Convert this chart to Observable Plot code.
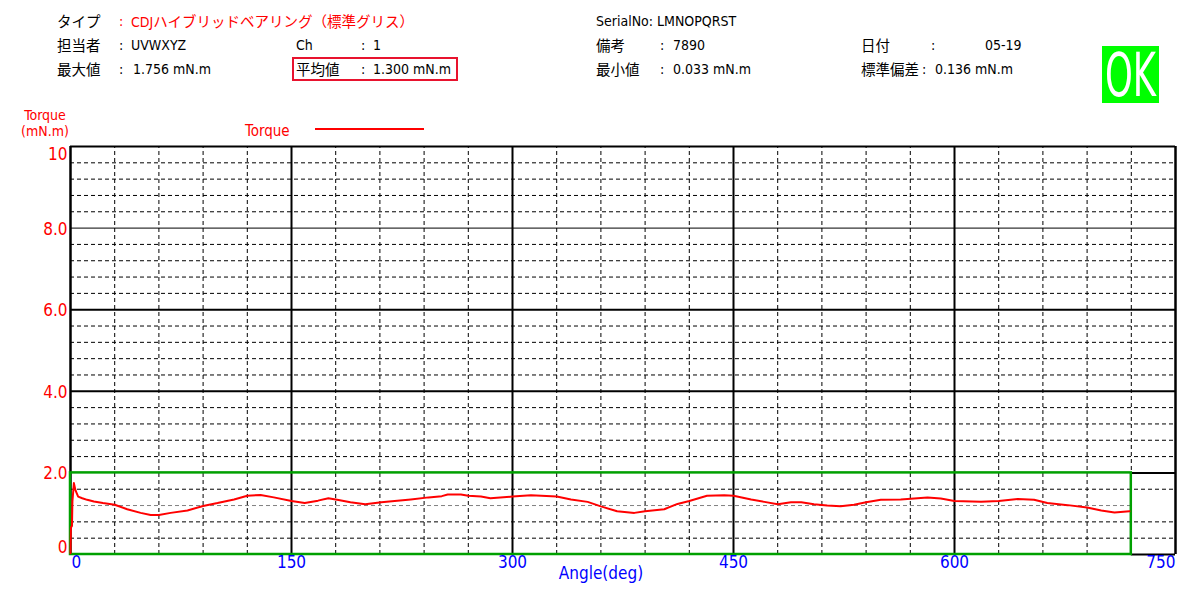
<!DOCTYPE html>
<html><head><meta charset="utf-8">
<script src="https://cdn.jsdelivr.net/npm/d3@7"></script>
<script src="https://cdn.jsdelivr.net/npm/@observablehq/plot@0.6"></script>
<style>
body{margin:0;background:#fff;}
#root{position:relative;width:1200px;height:610px;overflow:hidden;font-family:"Liberation Sans Narrow","DejaVu Sans Condensed","Noto Sans CJK JP",sans-serif;}
.t{position:absolute;font-size:14px;line-height:16px;white-space:nowrap;color:#000;}
.j{font-family:"Noto Sans CJK JP",sans-serif;font-size:14.5px;}
.r{color:#ff0000;}
.s{font-size:15px;line-height:14px;}
.ya{font-size:14px;line-height:16px;}
#chart{position:absolute;left:0;top:100px;}
</style></head>
<body><div id="root">
<div class="t j" style="left:57px;top:13px">タイプ</div>
<div class="t r" style="left:119px;top:13px">:</div>
<div class="t r" style="left:131px;top:13px">CDJ<span class="j">ハイブリッドベアリング（標準グリス）</span></div>
<div class="t" style="left:596px;top:13px">SerialNo: LMNOPQRST</div>

<div class="t j" style="left:57px;top:37px">担当者</div>
<div class="t" style="left:119px;top:37px">:</div>
<div class="t" style="left:131px;top:37px">UVWXYZ</div>
<div class="t" style="left:296px;top:37px">Ch</div>
<div class="t" style="left:361px;top:37px">:</div>
<div class="t" style="left:373px;top:37px">1</div>
<div class="t j" style="left:596px;top:37px">備考</div>
<div class="t" style="left:660px;top:37px">:</div>
<div class="t" style="left:673px;top:37px">7890</div>
<div class="t j" style="left:861px;top:37px">日付</div>
<div class="t" style="left:931px;top:37px">:</div>
<div class="t" style="left:985px;top:37px">05-19</div>

<div class="t j" style="left:57px;top:61px">最大値</div>
<div class="t" style="left:119px;top:61px">:</div>
<div class="t" style="left:133px;top:61px">1.756 mN.m</div>
<div style="position:absolute;left:292px;top:57px;width:162px;height:20px;border:2px solid #e8132e;"></div>
<div class="t j" style="left:296px;top:61px">平均値</div>
<div class="t" style="left:361px;top:61px">:</div>
<div class="t" style="left:373px;top:61px">1.300 mN.m</div>
<div class="t j" style="left:596px;top:61px">最小値</div>
<div class="t" style="left:660px;top:61px">:</div>
<div class="t" style="left:673px;top:61px">0.033 mN.m</div>
<div class="t j" style="left:861px;top:61px">標準偏差</div>
<div class="t" style="left:922px;top:61px">:</div>
<div class="t" style="left:935px;top:61px">0.136 mN.m</div>

<svg style="position:absolute;left:1102px;top:36px;overflow:visible" width="57" height="80">
<rect y="10" width="57" height="57" fill="#00ff00"/>
<text x="3" y="60" fill="#fff" font-family="Liberation Sans Narrow, DejaVu Sans Condensed, sans-serif" font-size="60" textLength="51" lengthAdjust="spacingAndGlyphs">OK</text>
</svg>

<div class="t r ya" style="left:20px;top:107px;width:50px;text-align:center;">Torque<br>(mN.m)</div>
<div class="t r s" style="left:245px;top:124px;">Torque</div>
<div style="position:absolute;left:315px;top:128px;width:109px;height:2px;background:#ff0000;"></div>

<div id="chart"></div>
</div>
<script>
const angle = [0, 0.3, 1.0, 1.3, 2.3, 3.4, 5.2, 8, 11.3, 15.9, 22, 30, 38.5, 47.6, 54.4, 60, 68, 79.4, 90, 99.8,
  111, 120, 129, 138, 150, 159, 168, 175, 181, 190, 200, 211, 220, 231, 243, 252, 256, 265, 270, 278.6,
  285, 300, 312.5, 330, 339.7, 351, 360, 371, 382.7, 390, 403, 412, 420, 432, 443.7, 450, 462, 471, 480, 489,
  496, 504.6, 513.6, 522.7, 531.8, 540, 550, 563.5, 581.7, 590.7, 600, 618, 630, 642.9, 654, 663, 676.9, 690, 699.6, 708.6, 718.8];
const torque = [0.03, 0.66, 0.70, 1.30, 1.75, 1.57, 1.42, 1.38, 1.34, 1.30, 1.26, 1.22, 1.11, 1.02, 0.97, 0.97, 1.02, 1.08, 1.19, 1.26,
  1.35, 1.44, 1.46, 1.40, 1.31, 1.26, 1.32, 1.38, 1.34, 1.28, 1.23, 1.28, 1.31, 1.35, 1.40, 1.43, 1.47, 1.47, 1.44, 1.42,
  1.38, 1.42, 1.45, 1.42, 1.35, 1.29, 1.18, 1.06, 1.02, 1.06, 1.11, 1.24, 1.31, 1.44, 1.45, 1.44, 1.35, 1.29, 1.23, 1.28,
  1.28, 1.23, 1.20, 1.18, 1.22, 1.28, 1.34, 1.35, 1.40, 1.37, 1.31, 1.29, 1.31, 1.36, 1.34, 1.26, 1.21, 1.15, 1.08, 1.03, 1.06];
const xTicks = [0, 150, 300, 450, 600, 750];
const xTickLabels = ["0", "150", "300", "450", "600", "750"];
const yTicks = [0, 2, 4, 6, 8, 10];
const yTickLabels = ["0", "2.0", "4.0", "6.0", "8.0", "10"];
const limitAngle = [0, 720];
const limitTorque = [0, 2];

const data = angle.map((a, i) => ({a, t: torque[i]}));
const xMinor = d3.range(1, 25).map(i => i * 30).filter(v => v % 150 !== 0);
const yMinor = d3.range(1, 25).filter(i => i % 5 !== 0 && i !== 3).map(i => i * 0.4);
const dash = "4,3";
const font = "'Liberation Sans Narrow','DejaVu Sans Condensed',sans-serif";
const blue = "#0000ff", red = "#ff0000", green = "#00a000";
const xl = (d) => xTickLabels[xTicks.indexOf(d)];
const yl = (d) => yTickLabels[yTicks.indexOf(d)];

const chart = Plot.plot({
  width: 1200, height: 510,
  marginLeft: 70, marginRight: 25, marginTop: 46, marginBottom: 56,
  x: {domain: [0, 750], axis: null},
  y: {domain: [0, 10], axis: null},
  style: {fontFamily: font, background: "transparent"},
  marks: [
    Plot.ruleX(xMinor, {y1: 0, y2: 10, stroke: "#000", strokeWidth: 1, strokeDasharray: dash}),
    Plot.ruleY(yMinor, {x1: 0, x2: 750, stroke: "#000", strokeWidth: 1, strokeDasharray: dash}),
    Plot.ruleY([1.2], {x1: limitAngle[0], x2: limitAngle[1], stroke: "#808080", strokeWidth: 1, strokeDasharray: dash}),
    Plot.ruleY([8], {x1: 0, x2: 750, stroke: "#000", strokeWidth: 1}),
    Plot.ruleY([4, 6, 10], {x1: 0, x2: 750, stroke: "#000", strokeWidth: 2}),
    Plot.ruleY([0, 2], {x1: limitAngle[1], x2: 750, stroke: "#000", strokeWidth: 2}),
    Plot.ruleX([150, 300, 450, 600], {y1: 0, y2: 10, stroke: "#000", strokeWidth: 2}),
    Plot.ruleX([0, 750], {y1: 0, y2: 10, stroke: "#000", strokeWidth: 2.5}),
    Plot.rect([0], {x1: limitAngle[0], x2: limitAngle[1], y1: limitTorque[0], y2: limitTorque[1], fill: "none", stroke: green, strokeWidth: 2.5}),
    Plot.line(data, {x: "a", y: "t", stroke: red, strokeWidth: 2}),
    Plot.text(xTicks.slice(0, 1), {x: d => d, text: xl, frameAnchor: "bottom", dy: 13, textAnchor: "start", dx: 1, fill: blue, fontSize: 17}),
    Plot.text(xTicks.slice(1, -1), {x: d => d, text: xl, frameAnchor: "bottom", dy: 13, fill: blue, fontSize: 17}),
    Plot.text(xTicks.slice(-1), {x: d => d, text: xl, frameAnchor: "bottom", dy: 13, textAnchor: "end", fill: blue, fontSize: 17}),
    Plot.text(["Angle(deg)"], {frameAnchor: "bottom", dy: 24, dx: -22, fill: blue, fontSize: 17}),
    Plot.text(yTicks.slice(1, -1), {y: d => d, text: yl, frameAnchor: "left", textAnchor: "end", dx: -3, dy: 1, fill: red, fontSize: 17}),
    Plot.text(yTicks.slice(0, 1), {y: d => d, text: yl, frameAnchor: "left", textAnchor: "end", dx: -3, dy: -7, fill: red, fontSize: 17}),
    Plot.text(yTicks.slice(-1), {y: d => d, text: yl, frameAnchor: "left", textAnchor: "end", dx: -3, dy: 8, fill: red, fontSize: 17})
  ]
});
document.getElementById("chart").appendChild(chart);
</script>
</body></html>
